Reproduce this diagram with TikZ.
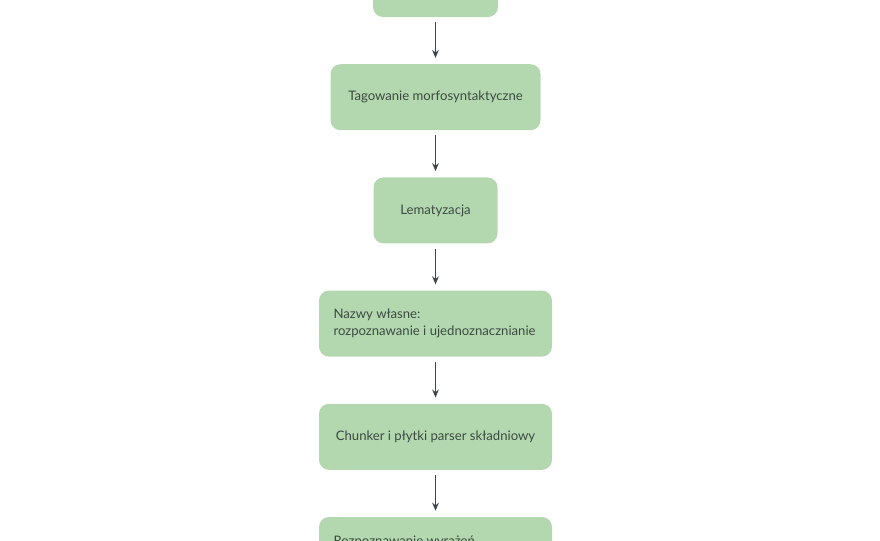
\documentclass[tikz,border=0pt]{standalone}
\usepackage{fontspec}
\setmainfont{Lato}
\usetikzlibrary{arrows.meta, positioning}

\definecolor{stagegreen}{HTML}{B3D8AF}
\definecolor{stagetext}{HTML}{3B4A40}
\definecolor{flowline}{HTML}{3A4750}

\begin{document}
\begin{tikzpicture}[
    x=0.75pt, y=-0.75pt,
    font=\fontsize{9.85}{12.75}\selectfont,
    >={Stealth[length=6pt, width=5pt]},
    node distance=35pt,
    stage/.style={rectangle, fill=stagegreen, text=stagetext, rounded corners=7.5pt, minimum height=49.5pt, align=center},
    widestage/.style={stage, minimum width=174.75pt, text width=153pt, align=flush left},
    flow/.style={->, line width=1pt, draw=flowline, shorten <=3.75pt, shorten >=4.5pt}
]
\useasboundingbox (0,0) rectangle (880,540);

% Pipeline stages
\node[stage, minimum width=93.75pt] (token) at (435.5,-16) {};
\node[stage, minimum width=157.5pt, below=of token] (tagger) {Tagowanie morfosyntaktyczne};
\node[stage, minimum width=93pt, below=of tagger] (lemma) {Lematyzacja};
\node[widestage, below=of lemma] (names) {Nazwy własne:\\rozpoznawanie i ujednoznacznianie};
\node[stage, minimum width=174.75pt, below=of names] (chunker) {Chunker i płytki parser składniowy};
\node[widestage, below=of chunker] (relations) {Rozpoznawanie wyrażeń\\temporalnych};

% Flow arrows
\draw[flow] (token.south) -- (tagger.north);
\draw[flow] (tagger.south) -- (lemma.north);
\draw[flow] (lemma.south) -- (names.north);
\draw[flow] (names.south) -- (chunker.north);
\draw[flow] (chunker.south) -- (relations.north);

\end{tikzpicture}
\end{document}
